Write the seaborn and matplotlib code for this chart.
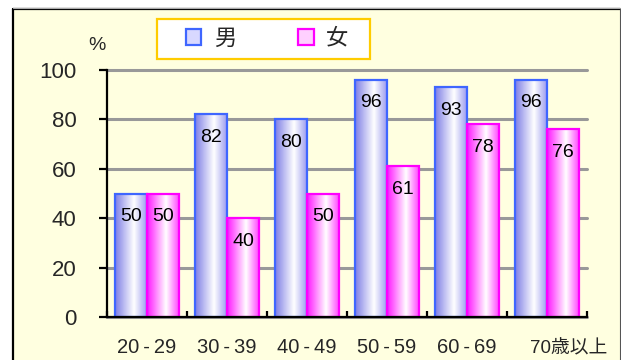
import numpy as np
import pandas as pd
import matplotlib
matplotlib.use("Agg")
import matplotlib.pyplot as plt
import matplotlib.transforms as mtransforms
import seaborn as sns
from matplotlib.patches import Rectangle, Patch
from matplotlib.lines import Line2D
from matplotlib.colors import LinearSegmentedColormap

# --- data -------------------------------------------------------------
categories = ["20-29", "30-39", "40-49", "50-59", "60-69", "70歳以上"]
tick_labels = ["20\u2009-\u200929", "30\u2009-\u200939", "40\u2009-\u200949",
               "50\u2009-\u200959", "60\u2009-\u200969", "70歳以上"]
series_names = ["男", "女"]
male = [50, 82, 80, 96, 93, 96]
female = [50, 40, 50, 61, 78, 76]

df = pd.DataFrame({
    "age": categories * 2,
    "sex": [series_names[0]] * len(categories) + [series_names[1]] * len(categories),
    "value": male + female,
})

# --- style ------------------------------------------------------------
sns.set_theme(style="white")
plt.rcParams["font.family"] = ["Liberation Sans", "Noto Sans CJK JP", "DejaVu Sans"]

edge_colors = {"男": "#3F66FF", "女": "#FF00FF"}
grad_stops = {
    "男": [(0.0, (0.50, 0.50, 0.90)), (0.6, (1, 1, 1)), (1.0, (0.62, 0.62, 0.94))],
    "女": [(0.0, (1.0, 0.10, 1.0)), (0.6, (1, 1, 1)), (1.0, (1.0, 0.30, 1.0))],
}

W, H = 621, 360
fig = plt.figure(figsize=(W / 100, H / 100), dpi=100)

# background panel with border on left / top
panel = Rectangle((13 / W, 0), (620 - 13) / W, (H - 9) / H,
                  transform=fig.transFigure, facecolor="#FFFFE0",
                  edgecolor="none", zorder=-3)
fig.patches.append(panel)
border_kw = dict(transform=fig.transFigure, zorder=-2)
fig.lines.append(Line2D([13 / W, 13 / W], [0, (H - 9) / H], color="black", lw=1.6, **border_kw))
fig.lines.append(Line2D([13 / W, 620 / W], [(H - 9) / H, (H - 9) / H], color="black", lw=1.6, **border_kw))
fig.lines.append(Line2D([13 / W, 620 / W], [(H - 7.5) / H, (H - 7.5) / H], color="#AAAAAA", lw=0.8, **border_kw))
fig.lines.append(Line2D([619.5 / W, 619.5 / W], [0, (H - 9) / H], color="#555555", lw=0.8, **border_kw))

# legend box
fig.patches.append(Rectangle((157 / W, 1 - 59 / H), (370 - 157) / W, 40 / H,
                             transform=fig.transFigure, facecolor="white",
                             edgecolor="#FFCC00", lw=1.6, zorder=-1))

ax = fig.add_axes([107 / W, (H - 317) / H, (587 - 107) / W, (317 - 70) / H])
ax.set_facecolor("none")

sns.barplot(data=df, x="age", y="value", hue="sex", hue_order=series_names,
            order=categories, width=0.8, palette=edge_colors, legend=False,
            ax=ax, zorder=3)

# cylinder-like horizontal gradient inside each bar
for name, container in zip(series_names, ax.containers):
    cmap = LinearSegmentedColormap.from_list(name, grad_stops[name])
    grad = np.linspace(0, 1, 64).reshape(1, -1)
    for bar in container:
        x0, w, h = bar.get_x(), bar.get_width(), bar.get_height()
        im = ax.imshow(grad, cmap=cmap, extent=[x0, x0 + w, 0, h],
                       aspect="auto", interpolation="bilinear", zorder=3)
        im.set_clip_path(bar)
        bar.set_facecolor("none")
        bar.set_edgecolor(edge_colors[name])
        bar.set_linewidth(1.6)
        bar.set_zorder(4)
        ax.annotate(f"{h:.0f}", (x0 + w / 2, h), xytext=(0, -16.5),
                    textcoords="offset points", ha="center", va="center",
                    fontsize=14, color="black", zorder=5)

ax.set_xlim(-0.5, len(categories) - 0.5)
ax.set_ylim(0, 100)

# grid, spines, ticks
ax.set_yticks(range(0, 101, 20))
ax.yaxis.grid(True, color="#999999", lw=2.2, zorder=1)
ax.xaxis.grid(False)
ax.set_axisbelow(True)
for gl in ax.get_ygridlines():
    gl.set_clip_on(False)
for s in ["top", "right"]:
    ax.spines[s].set_visible(False)
for s in ["left", "bottom"]:
    ax.spines[s].set_color("black")
    ax.spines[s].set_linewidth(1.6)
    ax.spines[s].set_zorder(6)

ax.tick_params(axis="y", direction="out", length=6, width=1.6, color="black",
               labelsize=16, pad=16, left=True)
ax.set_xticks(range(len(categories)))
ax.set_xticklabels(tick_labels)
ax.set_xticks(np.arange(-0.5, len(categories), 1.0), minor=True)
ax.tick_params(axis="x", which="major", length=0, labelsize=14.5, pad=15)
ax.tick_params(axis="x", which="minor", direction="in", length=4, width=1.6,
               color="black", bottom=True)
ax.set_xlabel("")
ax.set_ylabel("")

# the last age label sits a little to the right, in a smaller size
last = ax.get_xticklabels()[-1]
last.set_fontsize(13.5)
last.set_transform(last.get_transform() +
                   mtransforms.ScaledTranslation(22 / 100, -2 / 100, fig.dpi_scale_trans))

fig.text(97 / W, 1 - 45 / H, "%", fontsize=14, ha="center", va="center")

# legend entries
handles = [Patch(facecolor="#D8D8FF", edgecolor=edge_colors["男"], lw=1.6, label="男"),
           Patch(facecolor="#FFD0FF", edgecolor=edge_colors["女"], lw=1.6, label="女")]
leg = fig.legend(handles=handles, ncol=2, loc="center",
                 bbox_to_anchor=(267 / W, 1 - 39 / H),
                 fontsize=16, frameon=False,
                 handlelength=0.7, handleheight=0.7, handletextpad=0.55,
                 borderaxespad=0, borderpad=0, columnspacing=2.8)

fig.savefig("out.png", dpi=100)
